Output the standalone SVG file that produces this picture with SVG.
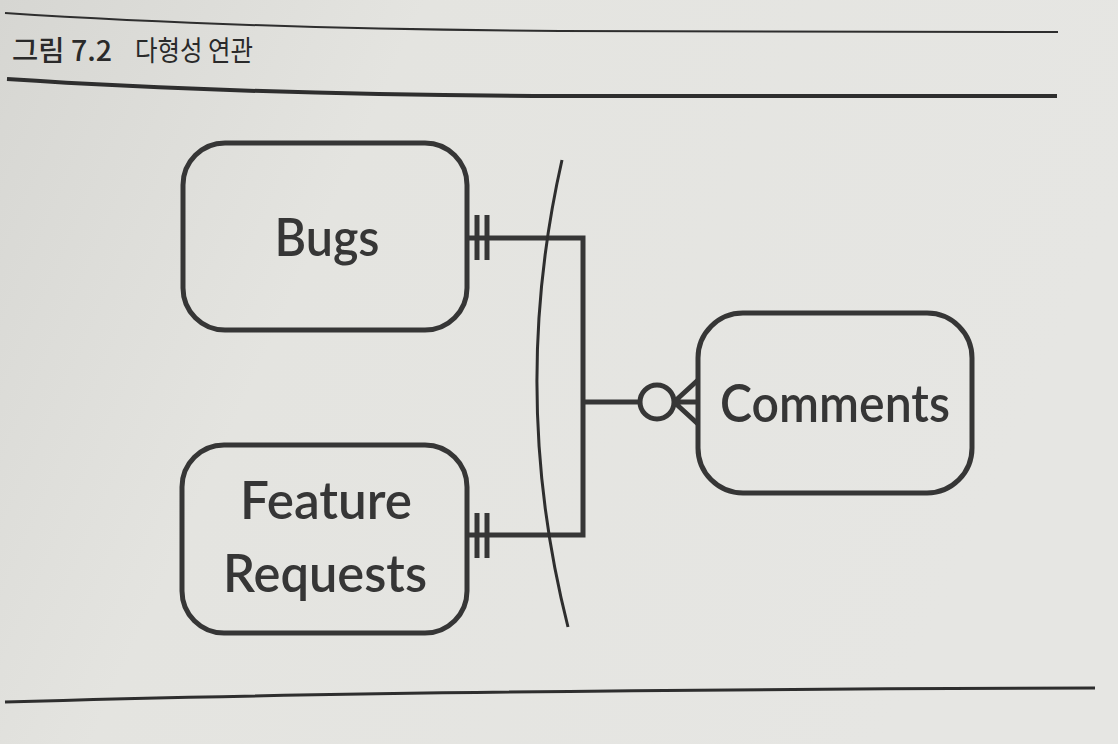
<svg xmlns="http://www.w3.org/2000/svg" width="1118" height="744" viewBox="0 0 1118 744">
  <defs>
    <linearGradient id="page" x1="0" y1="0" x2="1" y2="0.3">
      <stop offset="0" stop-color="#d6d6d2"/>
      <stop offset="0.35" stop-color="#e4e4e0"/>
      <stop offset="1" stop-color="#e6e6e3"/>
    </linearGradient>
    <style>
      .box { fill: none; stroke: #363636; stroke-width: 5; }
      .label { font-family: "Lato", "DejaVu Sans", sans-serif; font-size: 51px; font-weight: 600; fill: #363636; text-anchor: middle; }
      .conn { fill: none; stroke: #363636; stroke-width: 5; }
      .rule { fill: none; stroke: #2e2e2e; }
      .title { font-family: "Noto Sans CJK KR", "DejaVu Sans", sans-serif; font-size: 28px; fill: #2a2a2a; }
    </style>
  </defs>

  <rect x="0" y="0" width="1118" height="744" fill="url(#page)"/>

  <g id="header">
    <path class="rule" stroke-width="2" d="M 5 13 Q 250 29 560 31 L 1058 32"/>
    <text class="title" x="12" y="61" font-weight="500" textLength="100" lengthAdjust="spacingAndGlyphs">그림 7.2</text>
    <text class="title" x="135" y="61" textLength="118" lengthAdjust="spacingAndGlyphs">다형성 연관</text>
    <path class="rule" stroke-width="4" d="M 7 79 Q 250 95 560 96 L 1057 96"/>
  </g>

  <g id="footer">
    <path class="rule" stroke-width="3" d="M 5 702 Q 400 690 1095 688"/>
  </g>

  <g id="bugs">
    <rect class="box" x="183" y="143" width="284" height="187" rx="42" ry="42"/>
    <text class="label" x="327" y="256" textLength="105" lengthAdjust="spacingAndGlyphs">Bugs</text>
  </g>

  <g id="feature-requests">
    <rect class="box" x="182" y="445" width="285" height="188" rx="42" ry="42"/>
    <text class="label" x="326" y="519" textLength="172" lengthAdjust="spacingAndGlyphs">Feature</text>
    <text class="label" x="325" y="592" textLength="204" lengthAdjust="spacingAndGlyphs">Requests</text>
  </g>

  <g id="comments">
    <rect class="box" x="698" y="313" width="274" height="180" rx="45" ry="45"/>
    <text class="label" x="835" y="422" textLength="230" lengthAdjust="spacingAndGlyphs">Comments</text>
  </g>

  <g id="connectors">
    <path class="conn" d="M 467 238 H 583 V 535 H 467"/>
    <path class="conn" d="M 583 402 H 639"/>
    <line class="conn" x1="477" y1="215" x2="477" y2="260"/>
    <line class="conn" x1="487" y1="215" x2="487" y2="260"/>
    <line class="conn" x1="477" y1="513" x2="477" y2="558"/>
    <line class="conn" x1="487" y1="513" x2="487" y2="558"/>
    <circle class="conn" cx="657" cy="402" r="17"/>
    <path class="conn" d="M 674 402 H 698 M 674 402 L 698 380 M 674 402 L 698 424"/>
    <path fill="none" stroke="#2e2e2e" stroke-width="3" d="M 562 160 Q 509 394 568 627"/>
  </g>
</svg>
